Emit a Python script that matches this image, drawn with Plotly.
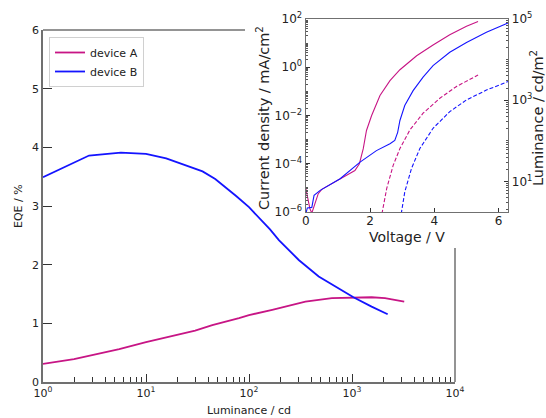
import plotly.graph_objects as go

W, H = 546, 418

# ---------------- data: main EQE vs luminance ----------------
lum_A = [1, 2, 5.5, 10, 30, 44, 80, 100, 168, 353, 638, 1033, 1550, 2090, 3214]
eqe_A = [0.31, 0.39, 0.56, 0.68, 0.876, 0.97, 1.09, 1.14, 1.23, 1.37, 1.43, 1.445, 1.445, 1.43, 1.37]
lum_B = [1, 2.8, 5.7, 10, 15.7, 22.7, 35.4, 47, 59.6, 75, 100, 125, 160, 195, 304, 475, 741, 1033, 1550, 2220]
eqe_B = [3.49, 3.86, 3.91, 3.89, 3.81, 3.71, 3.59, 3.46, 3.32, 3.17, 2.98, 2.80, 2.60, 2.42, 2.08, 1.80, 1.60, 1.445, 1.285, 1.155]

# ---------------- data: inset J-V-L ----------------
volt_JA = [0, 0.13, 0.19, 0.29, 0.39, 0.5, 1.07, 1.53, 1.67, 1.79, 1.89, 2.05, 2.31, 2.62, 2.93, 3.45, 3.96, 4.48, 5.0, 5.36]
curr_A = [1.0e-5, 1.38e-6, 9e-7, 2.57e-6, 5.75e-6, 8.7e-6, 2.4e-5, 5.2e-5, 1.0e-4, 4.2e-4, 2.4e-3, 1.0e-2, 6.8e-2, 0.28, 0.79, 3.0, 8.3, 22.4, 50, 79]
volt_JB = [0, 0.05, 0.19, 0.26, 0.45, 1.07, 1.69, 2.2, 2.62, 2.77, 2.86, 2.93, 3.08, 3.34, 3.65, 3.96, 4.48, 5.0, 5.62, 6.29]
curr_B = [8e-7, 1.48e-6, 1.55e-6, 4.9e-6, 7.9e-6, 2.4e-5, 1.17e-4, 3.5e-4, 6.8e-4, 9.3e-4, 2.0e-3, 6.2e-3, 2.6e-2, 0.107, 0.39, 1.17, 4.2, 10.7, 28, 68]
volt_LA = [2.37, 2.52, 2.72, 2.93, 3.24, 3.65, 4.17, 4.69, 5.36]
lumv_A = [1.6, 6.8, 25, 65, 186, 480, 1120, 2190, 4170]
volt_LB = [2.97, 3.08, 3.29, 3.55, 3.96, 4.48, 5.0, 5.62, 6.29]
lumv_B = [1.6, 5.5, 21, 65, 204, 525, 1020, 1780, 2880]

main_xticks = [1, 10, 100, 1000, 10000]
main_xtext = ["10<sup>0</sup>", "10<sup>1</sup>", "10<sup>2</sup>", "10<sup>3</sup>", "10<sup>4</sup>"]
inset_jticks = [1e-6, 1e-4, 1e-2, 1, 100]
inset_jtext = ["10<sup>−6</sup>", "10<sup>−4</sup>", "10<sup>−2</sup>", "10<sup>0</sup>", "10<sup>2</sup>"]
inset_lticks = [10, 1000, 100000]
inset_ltext = ["10<sup>1</sup>", "10<sup>3</sup>", "10<sup>5</sup>"]

COL_A = "#C71585"
COL_B = "#1414FF"
SPINE = "#707070"
TXT = "#222222"
FONT = "DejaVu Sans"


def px(x):
    return x / W


def py(y):
    return 1 - y / H


def minors(lo, hi):
    vals = []
    for e in range(lo, hi + 1):
        for m in range(1, 10):
            vals.append(m * 10 ** e)
    return vals


fig = go.Figure()

# main traces
fig.add_trace(go.Scatter(x=lum_A, y=eqe_A, mode="lines", name="device A",
                         line=dict(color=COL_A, width=1.8), xaxis="x", yaxis="y"))
fig.add_trace(go.Scatter(x=lum_B, y=eqe_B, mode="lines", name="device B",
                         line=dict(color=COL_B, width=1.8), xaxis="x", yaxis="y"))

# inset traces
fig.add_trace(go.Scatter(x=volt_JA, y=curr_A, mode="lines", showlegend=False,
                         line=dict(color=COL_A, width=1.1), xaxis="x2", yaxis="y2"))
fig.add_trace(go.Scatter(x=volt_JB, y=curr_B, mode="lines", showlegend=False,
                         line=dict(color=COL_B, width=1.1), xaxis="x2", yaxis="y2"))
fig.add_trace(go.Scatter(x=volt_LA, y=lumv_A, mode="lines", showlegend=False,
                         line=dict(color=COL_A, width=1.1, dash="4px,2px"), xaxis="x2", yaxis="y3"))
fig.add_trace(go.Scatter(x=volt_LB, y=lumv_B, mode="lines", showlegend=False,
                         line=dict(color=COL_B, width=1.1, dash="4px,2px"), xaxis="x2", yaxis="y3"))

main_x_dom = [px(43), px(455)]
main_y_dom = [py(382), py(30)]
ins_x_dom = [px(305.7), px(508.3)]
ins_y_dom = [py(212), py(19)]

tickfont_main = dict(family=FONT, size=11, color=TXT)
tickfont_ins = dict(family=FONT, size=12, color=TXT)

fig.update_layout(
    width=W, height=H,
    margin=dict(l=0, r=0, t=0, b=0, autoexpand=False),
    paper_bgcolor="white", plot_bgcolor="white",
    font=dict(family=FONT, color=TXT),
    showlegend=True,
    legend=dict(x=px(49), y=py(37), xanchor="left", yanchor="top",
                bgcolor="white", bordercolor="#d0d0d0", borderwidth=1,
                font=dict(family=FONT, size=11, color=TXT),
                tracegroupgap=0, itemwidth=30),
    xaxis=dict(domain=main_x_dom, type="log", range=[0, 4], anchor="y", automargin=False,
               showgrid=False, zeroline=False, showline=True, linecolor=SPINE, linewidth=1.5,
               ticks="inside", ticklen=8, tickcolor="#333333", tickwidth=1,
               tickmode="array", tickvals=main_xticks, ticktext=main_xtext,
               tickfont=tickfont_main,
               minor=dict(ticks="inside", ticklen=5, tickcolor="#333333", tickwidth=1,
                          tickmode="array", tickvals=minors(0, 3), showgrid=False)),
    yaxis=dict(domain=main_y_dom, range=[0, 6], anchor="x", automargin=False,
               showgrid=False, zeroline=False, showline=True, linecolor=SPINE, linewidth=1.5,
               ticks="inside", ticklen=9, tickcolor="#333333", tickwidth=1,
               tickmode="array", tickvals=[0, 1, 2, 3, 4, 5, 6],
               tickfont=tickfont_main),
    xaxis2=dict(domain=ins_x_dom, range=[0, 6.3], anchor="y2", automargin=False,
                showgrid=False, zeroline=False, showline=True, mirror=True,
                linecolor=SPINE, linewidth=1.2,
                ticks="inside", ticklen=4, tickcolor="#333333",
                ticklabelstandoff=-3,
                tickmode="array", tickvals=[0, 2, 4, 6], tickfont=tickfont_ins),
    yaxis2=dict(domain=ins_y_dom, type="log", range=[-6, 2], anchor="x2", automargin=False,
                showgrid=False, zeroline=False, showline=True,
                linecolor=SPINE, linewidth=1.2,
                ticks="inside", ticklen=4, tickcolor="#333333",
                tickmode="array", tickvals=inset_jticks, ticktext=inset_jtext,
                tickfont=tickfont_ins,
                minor=dict(ticks="inside", ticklen=2.5, tickcolor="#555555",
                           tickmode="array", tickvals=minors(-6, 1), showgrid=False)),
    yaxis3=dict(domain=ins_y_dom, type="log", range=[0.25, 5], anchor="x2", automargin=False,
                overlaying="y2", side="right",
                showgrid=False, zeroline=False, showline=True,
                linecolor=SPINE, linewidth=1.2,
                ticks="inside", ticklen=4, tickcolor="#333333",
                tickmode="array", tickvals=inset_lticks, ticktext=inset_ltext,
                tickfont=tickfont_ins,
                minor=dict(ticks="inside", ticklen=2.5, tickcolor="#555555",
                           tickmode="array", tickvals=minors(0, 4), showgrid=False)),
)

# partial top and right spines of the main axes (rest hidden by the inset)
fig.add_shape(type="line", xref="x domain", yref="y domain",
              x0=0, x1=(245 - 43) / 412, y0=1, y1=1,
              line=dict(color=SPINE, width=1.5))
fig.add_shape(type="line", xref="x domain", yref="y domain",
              x0=1, x1=1, y0=0, y1=(382 - 248) / 352,
              line=dict(color=SPINE, width=1.5))

ann = [
    dict(text="Luminance / cd", x=px(249), y=py(410), font=dict(size=11)),
    dict(text="EQE / %", x=px(18), y=py(206), font=dict(size=11), textangle=-90),
    dict(text="Voltage / V", x=px(407), y=py(236.5), font=dict(size=14)),
    dict(text="Current density / mA/cm<sup>2</sup>", x=px(263), y=py(118),
         font=dict(size=14.5), textangle=-90),
    dict(text="Luminance / cd/m<sup>2</sup>", x=px(537), y=py(118),
         font=dict(size=14.5), textangle=-90),
]
for a in ann:
    f = dict(family=FONT, color=TXT)
    f.update(a.pop("font"))
    fig.add_annotation(xref="paper", yref="paper", showarrow=False,
                       xanchor="center", yanchor="middle", font=f, **a)

fig.write_html("out.html")
